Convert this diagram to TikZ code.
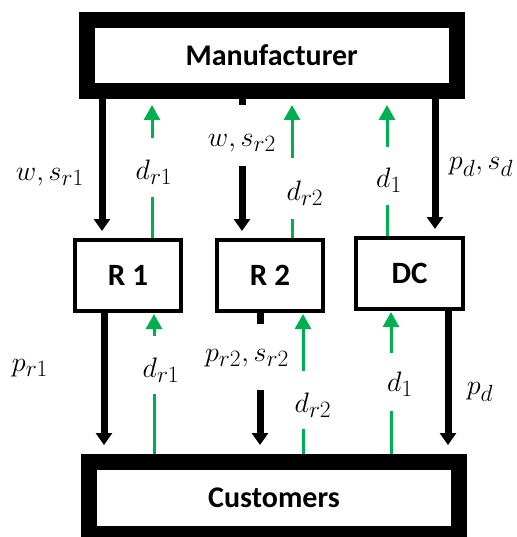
\documentclass[tikz,border=0pt]{standalone}
\usepackage{fontspec}
\setmainfont{Carlito}
\usetikzlibrary{arrows.meta}
\definecolor{sgreen}{RGB}{0,176,80}
\newcommand\mlbl[1]{\scalebox{1.13}{$#1$}}
\tikzset{
  bigbox/.style={draw=black, line width=16pt, fill=white, inner sep=0pt,
    font=\fontsize{30}{34}\selectfont\bfseries},
  smallbox/.style={draw=black, line width=4pt, fill=white, inner sep=0pt,
    minimum width=106pt, minimum height=71pt,
    font=\fontsize{31}{34}\selectfont\bfseries},
  blk/.style={draw=black, line width=7pt},
  blkarrow/.style={blk, -{Triangle[width=16pt,length=12pt]}},
  grn/.style={draw=sgreen, line width=3pt},
  grnarrow/.style={grn, -{Triangle[width=16pt,length=15pt]}},
  lbl/.style={inner sep=0pt, font=\fontsize{24.88}{28}\selectfont}
}
\begin{document}
\begin{tikzpicture}[x=1pt,y=-1pt]
\useasboundingbox (0,0) rectangle (516,537);
% boxes
\node[bigbox, minimum width=370.5pt, minimum height=71pt] (man) at (271.75,55.5) {Manufacturer};
\node[bigbox, minimum width=370pt, minimum height=72.5pt] (cus) at (274,497.75) {Customers};
\node[smallbox] (r1) at (128,275.5) {R 1};
\node[smallbox] (r2) at (270,275.5) {R 2};
\node[smallbox, minimum width=107pt] (dc) at (409.5,273.5) {DC};
% gap coordinates
\coordinate (a2a) at (242,105);
\coordinate (a2b) at (242,166);
\coordinate (g1a) at (152,197);
\coordinate (g1b) at (152,138);
\coordinate (g2a) at (292,219);
\coordinate (g2b) at (292,158);
\coordinate (g3a) at (387,205);
\coordinate (g3b) at (387,147);
\coordinate (b2a) at (260,324);
\coordinate (b2b) at (260,390);
\coordinate (g4a) at (154,394);
\coordinate (g4b) at (154,336);
\coordinate (g5a) at (303,429);
\coordinate (g5b) at (303,371);
\coordinate (g6a) at (391,411);
\coordinate (g6b) at (391,353);
% black arrows top
\draw[blkarrow, shorten >=7pt] (102,0 |- man.south) -- (102,0 |- r1.north);
\draw[blk] (a2a |- man.south) -- (a2a);
\draw[blkarrow, shorten >=7pt] (a2b) -- (a2b |- r2.north);
\draw[blkarrow, shorten >=7pt] (435,0 |- man.south) -- (435,0 |- dc.north);
% black arrows bottom
\draw[blkarrow, shorten >=8.5pt] (104,0 |- r1.south) -- (104,0 |- cus.north);
\draw[blk] (b2a |- r2.south) -- (b2a);
\draw[blkarrow, shorten >=8.5pt] (b2b) -- (b2b |- cus.north);
\draw[blkarrow, shorten >=8.5pt] (448,0 |- dc.south) -- (448,0 |- cus.north);
% green arrows top
\draw[grn] (g1a |- r1.north) -- (g1a);
\draw[grnarrow, shorten >=6pt] (g1b) -- (g1b |- man.south);
\draw[grn] (g2a |- r2.north) -- (g2a);
\draw[grnarrow, shorten >=6pt] (g2b) -- (g2b |- man.south);
\draw[grn] (g3a |- dc.north) -- (g3a);
\draw[grnarrow, shorten >=6pt] (g3b) -- (g3b |- man.south);
% green arrows bottom
\draw[grn] (g4a |- cus.north) -- (g4a);
\draw[grnarrow, shorten >=1pt] (g4b) -- (g4b |- r1.south);
\draw[grn] (g5a |- cus.north) -- (g5a);
\draw[grnarrow, shorten >=1pt] (g5b) -- (g5b |- r2.south);
\draw[grn] (g6a |- cus.north) -- (g6a);
\draw[grnarrow, shorten >=1pt] (g6b) -- (g6b |- dc.south);
% labels
\node[lbl] (l1) at (50,177) {\mlbl{w, s_{r1}}};
\node[lbl] (l2) at (154,172) {\mlbl{d_{r1}}};
\node[lbl] (l3) at (242,143) {\mlbl{w, s_{r2}}};
\node[lbl] (l4) at (305,193) {\mlbl{d_{r2}}};
\node[lbl] (l5) at (389,180) {\mlbl{d_{1}}};
\node[lbl] (l6) at (481,167) {\mlbl{p_d, s_d}};
\node[lbl] (l7) at (30,368) {\mlbl{p_{r1}}};
\node[lbl] (l8) at (161,370) {\mlbl{d_{r1}}};
\node[lbl] (l9) at (247,358) {\mlbl{p_{r2}, s_{r2}}};
\node[lbl] (l10) at (313,405) {\mlbl{d_{r2}}};
\node[lbl] (l11) at (400,384) {\mlbl{d_{1}}};
\node[lbl] (l12) at (480,392) {\mlbl{p_d}};
\end{tikzpicture}
\end{document}
